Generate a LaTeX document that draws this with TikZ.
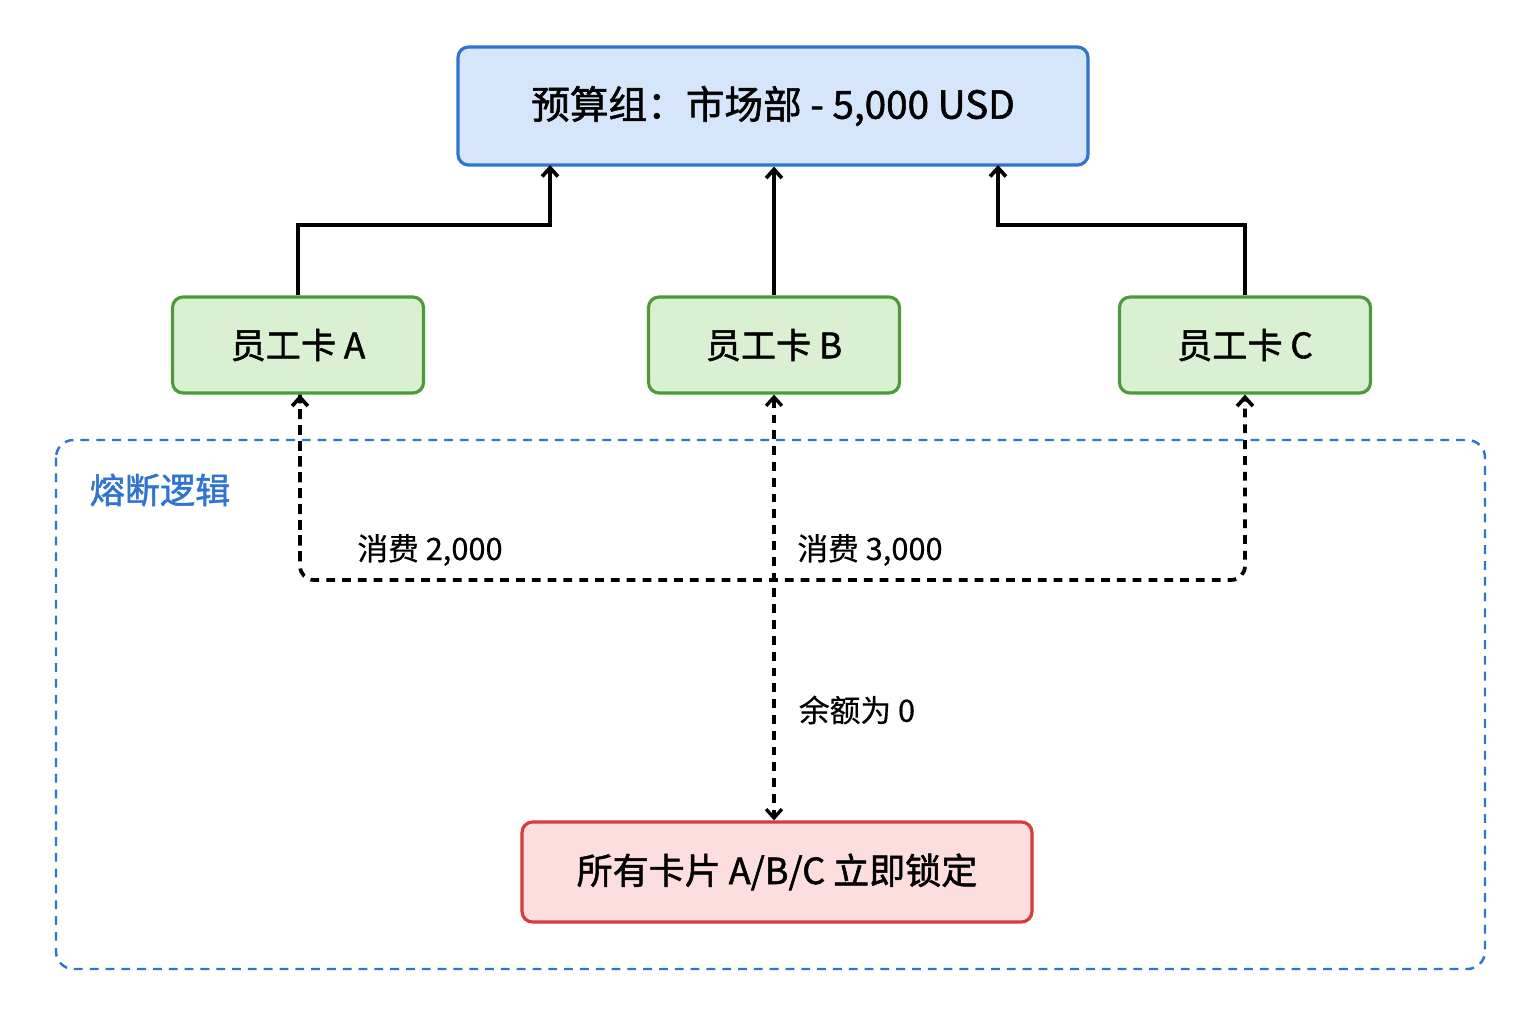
\documentclass[tikz,border=0pt]{standalone}
\usepackage{fontspec}
\setmainfont{Noto Sans CJK SC}[FakeBold=0.5]
\newfontfamily\medf{Noto Sans CJK SC}[FakeBold=1.4]
\usetikzlibrary{arrows.meta}
\definecolor{bfill}{HTML}{D6E6FA}\definecolor{bdraw}{HTML}{2F74D0}
\definecolor{gfill}{HTML}{D9F0D3}\definecolor{gdraw}{HTML}{4C9A3A}
\definecolor{rfill}{HTML}{FDDEDE}\definecolor{rdraw}{HTML}{D93A3A}
\begin{document}
\begin{tikzpicture}[x=0.02cm,y=-0.02cm,
 box/.style={draw,line width=1.8pt,rounded corners=6pt,inner sep=0pt},
 arr/.style={-{Straight Barb[length=5pt,width=9pt]},line width=2.1pt},
 dsh/.style={line width=1.9pt,dash pattern=on 5pt off 4pt},
 lbl/.style={font=\fontsize{17.5}{20}\selectfont}]
\useasboundingbox (0,0) rectangle (1536,1024);
\fill[white] (0,0) rectangle (1536,1024);
\draw[bdraw,line width=1.4pt,dash pattern=on 5pt off 4pt,rounded corners=10pt] (56,440) rectangle (1485,969);
\node[text=bdraw,font=\fontsize{20}{24}\selectfont\medf] (lg) at (160,490) {熔断逻辑};
\node[box,draw=bdraw,fill=bfill,minimum width=630*0.02cm,minimum height=118*0.02cm,font=\fontsize{22}{26}\selectfont\medf] (top) at (773,106) {预算组：市场部 - 5,000 USD};
\foreach \n/\x/\t in {a/298/A,b/774/B,c/1245/C}
 \node[box,draw=gdraw,fill=gfill,minimum width=251*0.02cm,minimum height=96*0.02cm,font=\fontsize{20}{24}\selectfont\medf] (\n) at (\x,345) {员工卡 \t};
\node[box,draw=rdraw,fill=rfill,minimum width=510*0.02cm,minimum height=100*0.02cm,font=\fontsize{20.5}{24}\selectfont\medf] (r) at (777,872) {所有卡片 A/B/C 立即锁定};
\coordinate (t1) at (550,165); \coordinate (t3) at (998,165);
\draw[arr] (a.north) |- (550,225) -- (t1);
\draw[arr] (b.north) -- (b.north|-top.south);
\draw[arr] (c.north) |- (998,225) -- (t3);
\coordinate (la) at (300,580); \coordinate (lc) at (1245,580);
\draw[dsh,rounded corners=8pt,arr] (a.south -| la) -- (la) -- (lc) -- (c.south);
\draw[dsh,arr] (la) ++(0,-20) -- (a.south -| la);
\draw[dsh,{Straight Barb[length=5pt,width=9pt]}-{Straight Barb[length=5pt,width=9pt]}] (b.south) -- (r.north -| b.south);
\node[lbl] at (430,550) {消费 2,000};
\node[lbl] at (870,550) {消费 3,000};
\node[lbl] at (857,710) {余额为 0};
\end{tikzpicture}
\end{document}
